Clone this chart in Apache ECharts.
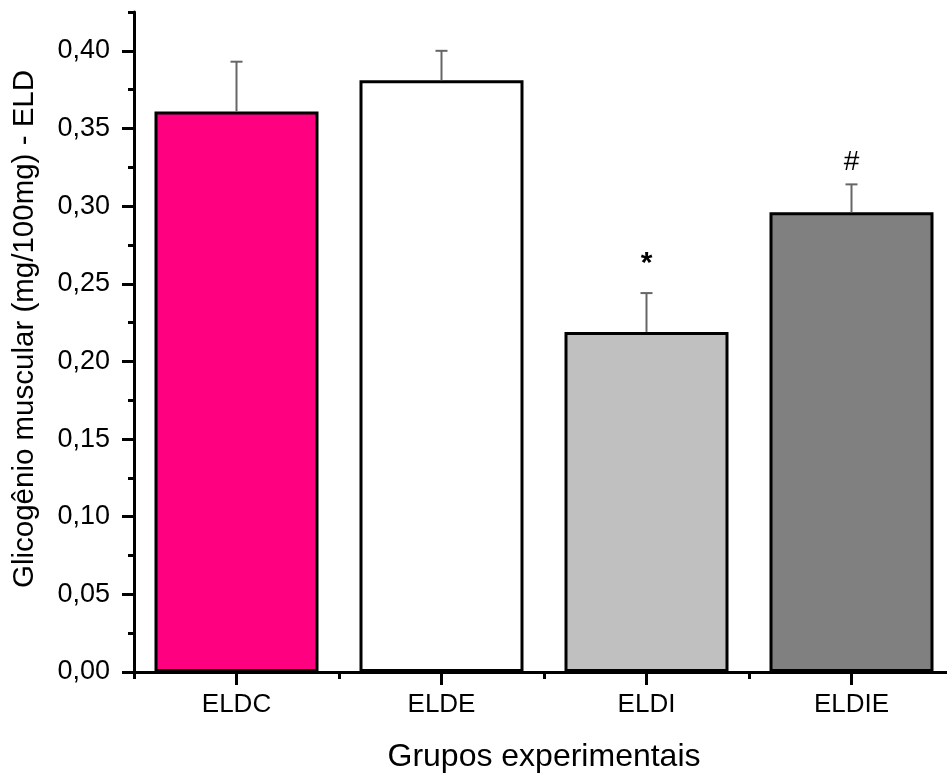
<!DOCTYPE html>
<html>
<head>
<meta charset="utf-8">
<script src="https://cdn.jsdelivr.net/npm/echarts@6/dist/echarts.min.js"></script>
<style>
  html, body { margin: 0; padding: 0; background: #fff; }
  #chart { width: 947px; height: 778px; }
</style>
</head>
<body>
<div id="chart"></div>
<script>
// Muscle glycogen (mg/100mg) in the ELD muscle for each experimental group
const groups = ['ELDC', 'ELDE', 'ELDI', 'ELDIE'];
const means = [0.361, 0.381, 0.219, 0.296];
const errors = [0.032, 0.019, 0.025, 0.018];
const marks = ['', '', '*', '#'];

// Axis ticks
const yMajorTicks = [0, 0.05, 0.10, 0.15, 0.20, 0.25, 0.30, 0.35, 0.40];
const yMinorTicks = [0.025, 0.075, 0.125, 0.175, 0.225, 0.275, 0.325, 0.375, 0.425];
const yMax = 0.425;

const xTitle = 'Grupos experimentais';
const yTitle = 'Glicogênio muscular (mg/100mg) - ELD';

// Styling
const FONT = '"Liberation Sans", Arial, sans-serif';
const barColors = ['#ff0080', '#ffffff', '#c0c0c0', '#808080'];
const markStyle = {
  '*': { size: 30, weight: 'bold', gap: 29 },
  '#': { size: 28, weight: 'normal', gap: 22 }
};

const chart = echarts.init(document.getElementById('chart'), null, { renderer: 'canvas' });

chart.setOption({
  animation: false,
  backgroundColor: '#ffffff',
  // the last category band runs slightly past the right edge of the canvas
  grid: { left: 134, top: 12, bottom: 106, width: 820, containLabel: false, outerBoundsMode: 'none' },
  xAxis: [
    {
      type: 'category',
      data: groups,
      position: 'bottom',
      axisLine: { show: true, lineStyle: { color: '#000', width: 3 } },
      axisTick: { show: true, alignWithLabel: true, length: 13, lineStyle: { color: '#000', width: 3 } },
      axisLabel: { color: '#000', fontFamily: FONT, fontSize: 26, margin: 20 },
      name: xTitle,
      nameLocation: 'middle',
      nameGap: 69,
      nameTextStyle: { color: '#000', fontFamily: FONT, fontSize: 32 },
      splitLine: { show: false }
    },
    {
      type: 'category',
      data: groups,
      position: 'bottom',
      axisLine: { show: false },
      axisTick: { show: true, length: 7, lineStyle: { color: '#000', width: 3 } },
      axisLabel: { show: false },
      splitLine: { show: false }
    }
  ],
  yAxis: [
    {
      type: 'value',
      min: 0,
      max: yMax,
      position: 'left',
      axisLine: { show: true, lineStyle: { color: '#000', width: 3 } },
      axisTick: { show: true, length: 12, customValues: yMajorTicks, lineStyle: { color: '#000', width: 3 } },
      axisLabel: {
        color: '#000', fontFamily: FONT, fontSize: 27, margin: 24,
        customValues: yMajorTicks,
        padding: [0, 0, 8, 0],
        formatter: v => v.toFixed(2).replace('.', ',')
      },
      splitLine: { show: false }
    },
    {
      type: 'value',
      min: 0,
      max: yMax,
      position: 'left',
      axisLine: { show: false },
      axisTick: { show: true, length: 6, customValues: yMinorTicks, lineStyle: { color: '#000', width: 3 } },
      axisLabel: { show: false },
      splitLine: { show: false }
    }
  ],
  graphic: [
    {
      type: 'text',
      x: 25,
      y: 329,
      rotation: Math.PI / 2,
      style: {
        text: yTitle,
        fill: '#000',
        font: '29.5px ' + FONT,
        textAlign: 'center',
        textVerticalAlign: 'middle'
      }
    }
  ],
  series: [
    {
      type: 'bar',
      xAxisIndex: 0,
      yAxisIndex: 0,
      barWidth: 164,
      data: means.map((v, i) => ({
        value: v,
        itemStyle: { color: barColors[i], borderColor: '#000', borderWidth: 3 }
      })),
      z: 2
    },
    {
      type: 'custom',
      xAxisIndex: 0,
      yAxisIndex: 0,
      data: means.map((v, i) => [i, v, errors[i]]),
      renderItem: function (params, api) {
        const i = api.value(0);
        const m = api.value(1);
        const e = api.value(2);
        const mark = marks[i];
        const base = api.coord([i, m]);
        const top = api.coord([i, m + e]);
        const capHalf = 6;
        const lineStyle = { stroke: '#666', lineWidth: 2 };
        const children = [
          { type: 'line', shape: { x1: base[0], y1: base[1], x2: top[0], y2: top[1] }, style: lineStyle },
          { type: 'line', shape: { x1: top[0] - capHalf, y1: top[1], x2: top[0] + capHalf, y2: top[1] }, style: lineStyle }
        ];
        if (mark) {
          const st = markStyle[mark];
          children.push({
            type: 'text',
            x: top[0],
            y: top[1] - st.gap,
            style: {
              text: mark,
              fill: '#000',
              font: st.weight + ' ' + st.size + 'px ' + FONT,
              textAlign: 'center',
              textVerticalAlign: 'middle'
            }
          });
        }
        return { type: 'group', children: children };
      },
      z: 3
    }
  ]
});
</script>
</body>
</html>
